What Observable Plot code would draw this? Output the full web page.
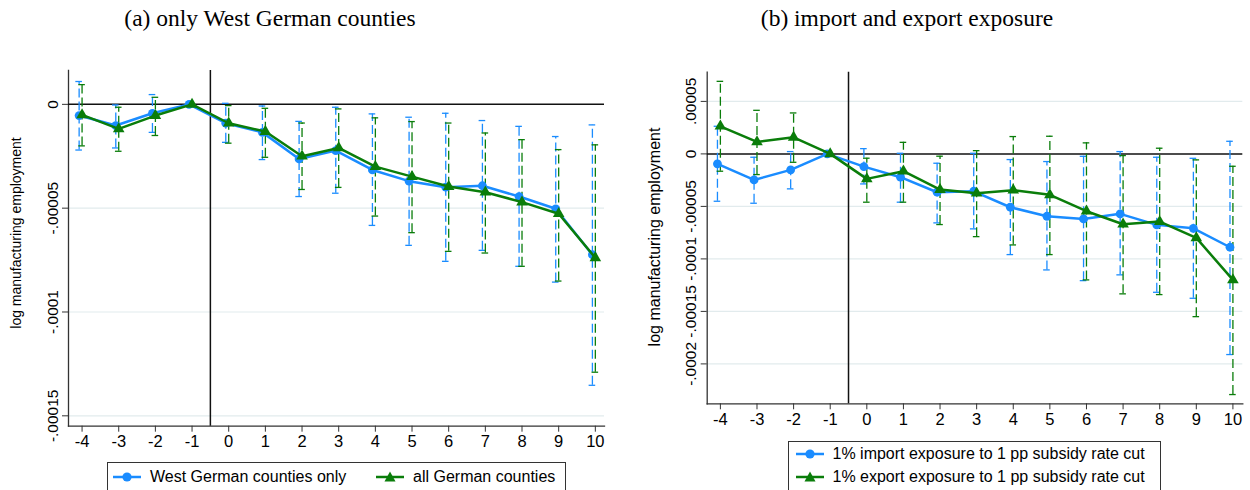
<!DOCTYPE html>
<html>
<head>
<meta charset="utf-8">
<script src="https://cdn.jsdelivr.net/npm/d3@7"></script>
<script src="https://cdn.jsdelivr.net/npm/@observablehq/plot@0.6"></script>
<style>
  html, body { margin: 0; padding: 0; width: 1250px; height: 490px; overflow: hidden; background: #fff; }
  #root { position: relative; width: 1250px; height: 490px; font-family: "Liberation Sans", Arial, sans-serif; color: #000; }
  .title { position: absolute; top: 0; font-family: "Liberation Serif", "Times New Roman", serif; font-size: 23.5px; white-space: nowrap; line-height: 36px; text-align: center; width: 500px; }
  .ylab { position: absolute; width: 300px; height: 20px; line-height: 20px; text-align: center; transform: rotate(-90deg); white-space: nowrap; }
  .panel { position: absolute; top: 50px; }
  .legend { position: absolute; border: 1px solid #333; background: #fff; box-sizing: border-box; }
  .litem { position: absolute; height: 20px; line-height: 20px; font-size: 16px; white-space: nowrap; }
  .lsym { position: absolute; width: 28px; height: 14px; }
</style>
</head>
<body>
<div id="root"></div>
<script>
// ---------- data ----------
const eventTime = [-4, -3, -2, -1, 0, 1, 2, 3, 4, 5, 6, 7, 8, 9, 10];

// panel (a): only West German counties
const westCoef = [-5.4e-6, -1.02e-5, -4.3e-6, 0, -9.1e-6, -1.35e-5, -2.63e-5, -2.23e-5, -3.16e-5, -3.70e-5, -3.99e-5, -3.92e-5, -4.44e-5, -5.03e-5, -7.24e-5];
const westLo   = [-2.2e-5, -2.1e-5, -1.35e-5, 0, -1.83e-5, -2.66e-5, -4.44e-5, -4.28e-5, -5.83e-5, -6.79e-5, -7.56e-5, -7.03e-5, -7.8e-5, -8.56e-5, -1.353e-4];
const westHi   = [1.1e-5, -0.3e-6, 4.7e-6, 0, 0.5e-6, -0.8e-6, -8.2e-6, -1.4e-6, -4.6e-6, -6.2e-6, -4.3e-6, -7.8e-6, -1.06e-5, -1.55e-5, -9.9e-6];
const allCoef  = [-5.1e-6, -1.18e-5, -5.4e-6, 0, -9.1e-6, -1.31e-5, -2.5e-5, -2.1e-5, -3.0e-5, -3.48e-5, -3.96e-5, -4.23e-5, -4.71e-5, -5.27e-5, -7.39e-5];
const allLo    = [-2.0e-5, -2.26e-5, -1.5e-5, 0, -1.87e-5, -2.55e-5, -4.1e-5, -4.0e-5, -5.38e-5, -6.18e-5, -7.08e-5, -7.16e-5, -7.8e-5, -8.51e-5, -1.29e-4];
const allHi    = [9.5e-6, -1.4e-6, 3.4e-6, 0, -0.6e-6, -1.9e-6, -9e-6, -2.2e-6, -6.5e-6, -8.3e-6, -9e-6, -1.38e-5, -1.7e-5, -2.18e-5, -1.95e-5];

// panel (b): import and export exposure
const impCoef = [-9.5e-6, -2.48e-5, -1.52e-5, 0, -1.21e-5, -2.22e-5, -3.65e-5, -3.56e-5, -5.08e-5, -5.94e-5, -6.19e-5, -5.71e-5, -6.76e-5, -7.09e-5, -8.89e-5];
const impLo   = [-4.51e-5, -4.7e-5, -3.33e-5, 0, -2.86e-5, -4.6e-5, -6.57e-5, -7.14e-5, -9.59e-5, -1.105e-4, -1.207e-4, -1.152e-4, -1.318e-4, -1.375e-4, -1.911e-4];
const impHi   = [2.63e-5, -3.2e-6, 2.2e-6, 0, 5e-6, 0.6e-6, -8.9e-6, 0.6e-6, -5.4e-6, -7.3e-6, -2.3e-6, 2.2e-6, -3.2e-6, -4.2e-6, 1.2e-5];
const expCoef = [2.63e-5, 1.14e-5, 1.58e-5, 0, -2.38e-5, -1.65e-5, -3.4e-5, -3.75e-5, -3.46e-5, -3.9e-5, -5.46e-5, -6.7e-5, -6.45e-5, -8.0e-5, -1.2e-4];
const expLo   = [-1.65e-5, -1.97e-5, -8e-6, 0, -4.6e-5, -4.6e-5, -6.73e-5, -7.88e-5, -8.67e-5, -9.59e-5, -1.2e-4, -1.333e-4, -1.34e-4, -1.55e-4, -2.292e-4];
const expHi   = [6.91e-5, 4.15e-5, 3.9e-5, 0, -4.1e-6, 1.1e-5, -2.2e-6, 3.1e-6, 1.65e-5, 1.68e-5, 1.05e-5, -1.6e-6, 5.4e-6, -5.7e-6, -1.18e-5];

// ticks
const xTicks = [-4, -3, -2, -1, 0, 1, 2, 3, 4, 5, 6, 7, 8, 9, 10];
const yTicksA = [0, -0.00005, -0.0001, -0.00015];
const yTickLabelsA = ["0", "-.00005", "-.0001", "-.00015"];
const yTicksB = [0.00005, 0, -0.00005, -0.0001, -0.00015, -0.0002];
const yTickLabelsB = [".00005", "0", "-.00005", "-.0001", "-.00015", "-.0002"];

const titleA = "(a) only West German counties";
const titleB = "(b) import and export exposure";
const yLabel = "log manufacturing employment";
const legendA = ["West German counties only", "all German counties"];
const legendB = ["1% import exposure to 1 pp subsidy rate cut", "1% export exposure to 1 pp subsidy rate cut"];

const BLUE = "#1a8cff";
const GREEN = "#0a7d0a";
const treatLine = -0.5;

function series(coef, lo, hi) {
  return eventTime.map((t, i) => ({t, coef: coef[i], lo: lo[i], hi: hi[i]}));
}

function panel({s1, s2, yTicks, yLabels, xDomain, yDomain, width, height, mt, mb, ml, mr}) {
  const off1 = -0.08, off2 = 0.0, cap = 0.09;
  const ci1 = s1.filter(d => d.lo !== d.hi);
  const ci2 = s2.filter(d => d.lo !== d.hi);
  const fmt = d => yLabels[yTicks.indexOf(d)];
  const errMarks = (ci, off, color) => [
    Plot.ruleX(ci, {x: d => d.t + off, y1: "lo", y2: "hi", stroke: color, strokeWidth: 1.3, strokeDasharray: "9,4"}),
    Plot.ruleY(ci, {y: "lo", x1: d => d.t + off - cap, x2: d => d.t + off + cap, stroke: color, strokeWidth: 1.3}),
    Plot.ruleY(ci, {y: "hi", x1: d => d.t + off - cap, x2: d => d.t + off + cap, stroke: color, strokeWidth: 1.3})
  ];
  return Plot.plot({
    width, height,
    marginTop: mt, marginBottom: mb, marginLeft: ml, marginRight: mr,
    style: {fontFamily: "'Liberation Sans', Arial, sans-serif", fontSize: "15px", background: "transparent", overflow: "visible"},
    x: {domain: xDomain},
    y: {domain: yDomain},
    marks: [
      Plot.gridY(yTicks.filter(v => v !== 0), {stroke: "#e2ebed", strokeOpacity: 1, strokeWidth: 1.2}),
      Plot.axisX(xTicks, {tickSize: 6, tickPadding: 3, tickFormat: d => String(d), label: null, stroke: "#333", fontSize: 16.5}),
      Plot.axisY(yTicks, {tickSize: 6, tickRotate: -90, tickPadding: 5, tickFormat: fmt, label: null, stroke: "#333", fontSize: 15.5}),
      Plot.frame({anchor: "left", stroke: "#333", strokeWidth: 1.3}),
      Plot.frame({anchor: "bottom", stroke: "#333", strokeWidth: 1.3}),
      Plot.ruleY([0], {stroke: "#111", strokeWidth: 1.5}),
      Plot.ruleX([treatLine], {stroke: "#111", strokeWidth: 1.5}),
      ...errMarks(ci1, off1, BLUE),
      ...errMarks(ci2, off2, GREEN),
      Plot.line(s1, {x: d => d.t + off1, y: "coef", stroke: BLUE, strokeWidth: 2.5}),
      Plot.dot(s1, {x: d => d.t + off1, y: "coef", fill: BLUE, r: 4.4, symbol: "circle"}),
      Plot.line(s2, {x: d => d.t + off2, y: "coef", stroke: GREEN, strokeWidth: 2.5}),
      Plot.dot(s2, {x: d => d.t + off2, y: "coef", fill: GREEN, r: 4.3, symbol: "triangle"})
    ]
  });
}

const root = document.getElementById("root");
function addDiv(cls, css, text) {
  const d = document.createElement("div");
  d.className = cls;
  Object.assign(d.style, css);
  if (text != null) d.textContent = text;
  root.appendChild(d);
  return d;
}

// titles
addDiv("title", {left: (270 - 250) + "px"}, titleA);
addDiv("title", {left: (907 - 250) + "px"}, titleB);

// panels
const pA = panel({
  s1: series(westCoef, westLo, westHi), s2: series(allCoef, allLo, allHi),
  yTicks: yTicksA, yLabels: yTickLabelsA,
  xDomain: [-4.37, 10.25], yDomain: [-0.000155, 0.0000163],
  width: 625, height: 410, mt: 20, mb: 34.3, ml: 68, mr: 21
});
const dA = addDiv("panel", {left: "0px"});
dA.appendChild(pA);

const pB = panel({
  s1: series(impCoef, impLo, impHi), s2: series(expCoef, expLo, expHi),
  yTicks: yTicksB, yLabels: yTickLabelsB,
  xDomain: [-4.36, 10.27], yDomain: [-0.000238, 0.0000778],
  width: 625, height: 390, mt: 21.7, mb: 36.7, ml: 81.7, mr: 7.7
});
const dB = addDiv("panel", {left: "625px"});
dB.appendChild(pB);

// y-axis labels
addDiv("ylab", {left: (16 - 150) + "px", top: (233 - 10) + "px", fontSize: "14px"}, yLabel);
addDiv("ylab", {left: (655 - 150) + "px", top: (236.5 - 10) + "px", fontSize: "16px"}, yLabel);

// legends
function symbol(kind, color) {
  const ns = "http://www.w3.org/2000/svg";
  const svg = document.createElementNS(ns, "svg");
  svg.setAttribute("width", 28); svg.setAttribute("height", 14);
  const ln = document.createElementNS(ns, "line");
  ln.setAttribute("x1", 0); ln.setAttribute("x2", 28); ln.setAttribute("y1", 7); ln.setAttribute("y2", 7);
  ln.setAttribute("stroke", color); ln.setAttribute("stroke-width", 2.5);
  svg.appendChild(ln);
  let m;
  if (kind === "circle") {
    m = document.createElementNS(ns, "circle");
    m.setAttribute("cx", 14); m.setAttribute("cy", 7); m.setAttribute("r", 4.6);
  } else {
    m = document.createElementNS(ns, "polygon");
    m.setAttribute("points", "14,1.5 19.5,11.5 8.5,11.5");
  }
  m.setAttribute("fill", color);
  svg.appendChild(m);
  return svg;
}
function legendItem(x, cy, kind, color, label, textX) {
  const s = addDiv("lsym", {left: x + "px", top: (cy - 7) + "px"});
  s.appendChild(symbol(kind, color));
  addDiv("litem", {left: textX + "px", top: (cy - 10) + "px"}, label);
}
addDiv("legend", {left: "107px", top: "462px", width: "459px", height: "45px"});
legendItem(113, 476.7, "circle", BLUE, legendA[0], 150);
legendItem(376, 476.7, "triangle", GREEN, legendA[1], 413);

addDiv("legend", {left: "788px", top: "440.5px", width: "373px", height: "65px"});
legendItem(795.5, 454, "circle", BLUE, legendB[0], 832.5);
legendItem(795.5, 476.7, "triangle", GREEN, legendB[1], 832.5);
</script>
</body>
</html>
